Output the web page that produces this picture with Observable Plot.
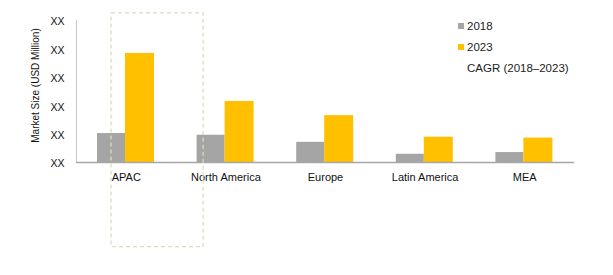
<!DOCTYPE html>
<html>
<head>
<meta charset="utf-8">
<script src="https://cdn.jsdelivr.net/npm/d3@7"></script>
<script src="https://cdn.jsdelivr.net/npm/@observablehq/plot@0.6"></script>
<style>
  html, body { margin: 0; padding: 0; background: #fff; }
  #wrap { position: relative; width: 613px; height: 275px; font-family: "Liberation Sans", Arial, sans-serif; }
  #legend { position: absolute; left: 458px; top: 15px; font-size: 11.5px; color: #222; }
  #legend .row { height: 21px; display: flex; align-items: center; }
  #legend .sw { width: 6px; height: 6px; margin-right: 3px; }
</style>
</head>
<body>
<div id="wrap"></div>
<script>
const regions = ["APAC", "North America", "Europe", "Latin America", "MEA"];
const values2018 = [1.02, 0.96, 0.71, 0.29, 0.35];
const values2023 = [3.84, 2.15, 1.65, 0.89, 0.86];
const years = ["2018", "2023"];
const colors = ["#a5a5a5", "#ffc000"];
const yTicks = [0, 1, 2, 3, 4, 5];
const yTickLabel = "XX";
const yLabel = "Market Size (USD Million)";
const cagrLabel = "CAGR (2018\u20132023)";
const highlight = [{region: "APAC", top: 5.25, bottom: -2.98}];

const rows2018 = regions.map((r, i) => ({region: r, year: "2018", value: values2018[i]}));
const rows2023 = regions.map((r, i) => ({region: r, year: "2023", value: values2023[i]}));

const chart = Plot.plot({
  width: 613,
  height: 275,
  marginLeft: 76,
  marginRight: 39,
  marginTop: 20,
  marginBottom: 113,
  style: {fontFamily: "'Liberation Sans', Arial, sans-serif", fontSize: "11px", color: "#111", background: "#fff"},
  x: {domain: regions, padding: 0, round: false, label: null, axis: null},
  y: {domain: [0, 5], label: null, axis: null},
  marks: [
    Plot.axisX({tickSize: 0, tickPadding: 11, fontSize: 11}),
    Plot.axisY({ticks: yTicks, tickFormat: () => yTickLabel, tickSize: 0, tickPadding: 12, fontSize: 10.5,
      fontFamily: "'Liberation Sans Narrow', 'Liberation Sans', Arial, sans-serif", dy: 1.5}),
    Plot.frame({anchor: "left", stroke: "#c8c8c8"}),
    Plot.barY(rows2018, {x: "region", y: "value", fill: colors[0], insetLeft: 21, insetRight: 50.6}),
    Plot.barY(rows2023, {x: "region", y: "value", fill: colors[1], insetLeft: 49, insetRight: 21.6}),
    Plot.ruleY([0], {stroke: "#a6a6a6", strokeWidth: 1.3}),
    Plot.barY(highlight, {x: "region", y1: "bottom", y2: "top", fill: "none", stroke: "#dcdcc4",
      strokeWidth: 1.3, strokeDasharray: "4,3", insetLeft: 35, insetRight: -27.5}),
    Plot.text([yLabel], {frameAnchor: "left", textAnchor: "middle", dx: -41, dy: -6, rotate: -90, fontSize: 10, fill: "#111"})
  ]
});
document.getElementById("wrap").appendChild(chart);

const legend = document.createElement("div");
legend.id = "legend";
years.forEach((y, i) => {
  const row = document.createElement("div");
  row.className = "row";
  row.innerHTML = `<span class="sw" style="background:${colors[i]}"></span><span>${y}</span>`;
  legend.appendChild(row);
});
const cagr = document.createElement("div");
cagr.className = "row";
cagr.innerHTML = `<span style="margin-left:9px">${cagrLabel}</span>`;
legend.appendChild(cagr);
document.getElementById("wrap").appendChild(legend);
</script>
</body>
</html>
